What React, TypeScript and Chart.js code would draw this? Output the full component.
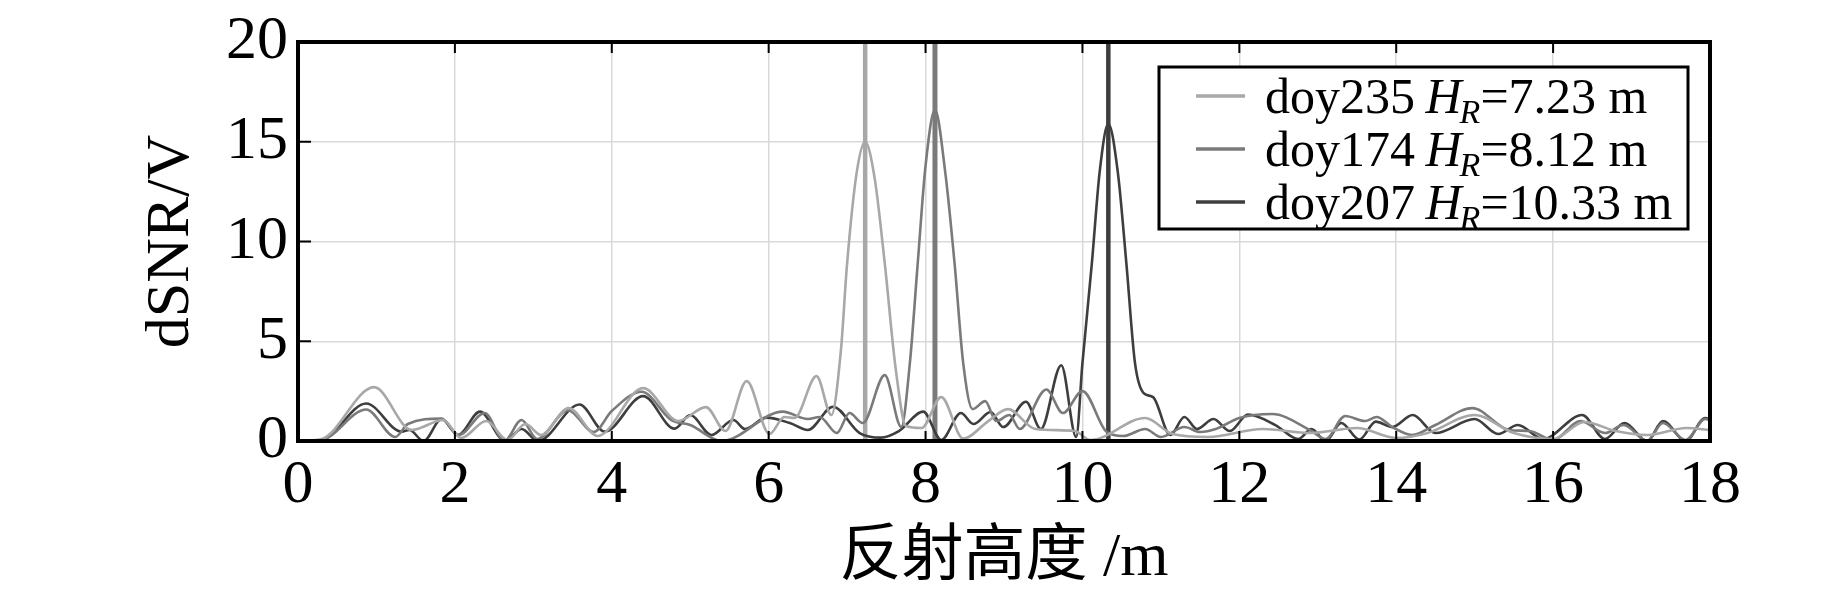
import React, { useEffect, useRef } from "react";
import { Chart, registerables } from "chart.js";

Chart.register(...registerables);

// ---- data (x = reflector height in m, y = dSNR amplitude in V) ----
const doy235: [number, number][] = [
  [0, 0], [0.3, 0.1], [0.97, 2.7], [1.45, 0.55], [1.85, 1.05], [2.08, 0.15], [2.4, 1.0],
  [2.67, 0.05], [2.9, 0.85], [3.1, 0.3], [3.45, 1.65], [3.82, 0.25], [4.4, 2.65], [4.85, 1.0],
  [5.2, 1.7], [5.45, 0.5], [5.72, 3.0], [6.01, 0.35], [6.2, 1.2], [6.33, 1.15], [6.61, 3.25],
  [6.8, 1.3], [6.92, 4.5], [7.0, 8.9], [7.12, 13.4], [7.23, 15.0], [7.35, 13.2], [7.48, 8.9],
  [7.62, 3.6], [7.75, 0.75], [7.95, 0.65], [8.2, 2.2], [8.48, 0.12], [8.8, 1.0], [9.05, 1.6],
  [9.4, 0.6], [9.9, 0.5], [10.1, 0.05], [10.8, 1.15], [11.15, 0.35], [11.6, 0.2], [12.3, 0.6],
  [12.9, 0.4], [13.5, 0.65], [14.0, 0.15], [14.4, 0.4], [15.0, 1.3], [15.5, 0.4], [16.0, 0.1],
  [16.4, 0.95], [16.8, 0.5], [17.2, 0.3], [17.7, 0.65], [18, 0.55],
];

const doy174: [number, number][] = [
  [0, 0], [0.3, 0.05], [0.87, 1.58], [1.24, 0.2], [1.4, 0.85], [1.83, 1.12], [2.05, 0.3],
  [2.38, 1.4], [2.63, 0.0], [2.85, 1.05], [3.05, 0.1], [3.44, 1.55], [3.77, 0.45], [4.0, 1.5],
  [4.38, 2.47], [4.76, 1.05], [5.0, 0.8], [5.4, 0.0], [6.18, 1.47], [6.5, 1.1], [6.65, 1.2],
  [6.87, 0.4], [7.03, 1.4], [7.2, 0.9], [7.48, 3.3], [7.69, 0.7], [7.8, 3.9], [7.9, 8.9],
  [8.0, 13.8], [8.12, 16.6], [8.25, 13.5], [8.37, 8.9], [8.48, 3.9], [8.6, 1.6], [8.76, 2.0],
  [8.9, 1.0], [9.07, 1.3], [9.2, 0.6], [9.54, 2.58], [9.75, 1.4], [10.0, 2.5], [10.31, 0.45],
  [10.52, 0.25], [10.8, 0.6], [11.0, 0.2], [11.3, 0.7], [11.5, 0.45], [11.7, 0.6], [12.0, 1.15],
  [12.42, 1.35], [12.9, 0.55], [13.1, 0.1], [13.35, 1.25], [13.6, 1.0], [13.75, 1.2], [13.95, 0.7],
  [14.2, 0.3], [14.5, 0.8], [14.97, 1.65], [15.44, 0.55], [15.7, 0.5], [16.0, 0.05], [16.35, 1.0],
  [16.66, 0.4], [16.9, 0.8], [17.2, 0.0], [17.4, 0.9], [17.69, 0.05], [17.94, 1.1], [18, 1.05],
];

const doy207: [number, number][] = [
  [0, 0], [0.3, 0.05], [0.87, 1.88], [1.32, 0.47], [1.42, 0.55], [1.6, 0.0], [1.83, 1.1],
  [2.04, 0.3], [2.32, 1.47], [2.64, 0.0], [2.85, 0.6], [3.06, 0.0], [3.59, 1.83], [3.91, 0.47],
  [4.4, 2.25], [4.8, 0.62], [5.0, 1.3], [5.27, 0.3], [5.55, 1.05], [5.7, 0.6], [5.97, 1.17],
  [6.27, 0.9], [6.5, 0.55], [6.82, 1.72], [7.16, 0.4], [7.43, 0.17], [7.66, 0.5], [7.97, 1.47],
  [8.2, 0.05], [8.45, 1.4], [8.61, 0.85], [8.83, 1.45], [8.99, 0.7], [9.28, 1.97], [9.47, 0.6],
  [9.73, 3.8], [9.92, 0.2], [10.0, 3.9], [10.12, 8.9], [10.22, 13.5], [10.33, 15.9], [10.45, 13.5],
  [10.56, 8.9], [10.67, 3.9], [10.78, 2.4], [10.9, 2.2], [11.12, 0.3], [11.3, 1.2], [11.46, 0.6],
  [11.67, 1.1], [11.88, 0.5], [12.11, 1.33], [12.46, 0.8], [12.75, 0.1], [12.92, 0.6], [13.1, 0.0],
  [13.3, 0.9], [13.53, 0.07], [13.74, 0.97], [13.95, 0.7], [14.21, 1.3], [14.5, 0.4], [15.0, 1.1],
  [15.3, 0.35], [15.55, 0.8], [15.87, 0.1], [16.37, 1.3], [16.66, 0.1], [16.91, 0.9], [17.2, 0.0],
  [17.4, 1.0], [17.69, 0.0], [17.94, 1.15], [18, 1.1],
];

const seriesNames = ["doy235", "doy174", "doy207"];
const reflectorHeights = [7.23, 8.12, 10.33];
const seriesColors = ["#a8a8a8", "#7a7a7a", "#3e3e3e"];
const xRange = [0, 18];
const yRange = [0, 20];
const xStep = 2;
const yStep = 5;
const xTitle = "反射高度 /m";
const yTitle = "dSNR/V";

const FONT = '"Liberation Serif", "Times New Roman", "Noto Sans CJK SC", serif';

const framePlugin = {
  id: "frameTicks",
  afterDatasetsDraw(chart: any) {
    const { ctx, chartArea, scales } = chart;
    const { left, right, top, bottom } = chartArea;
    ctx.save();
    ctx.strokeStyle = "#000";
    ctx.lineWidth = 2;
    ctx.beginPath();
    for (const t of scales.x.ticks) {
      const px = scales.x.getPixelForValue(t.value);
      if (px <= left + 2 || px >= right - 2) continue;
      ctx.moveTo(px, bottom);
      ctx.lineTo(px, bottom - 10);
      ctx.moveTo(px, top);
      ctx.lineTo(px, top + 11);
    }
    for (const t of scales.y.ticks) {
      const py = scales.y.getPixelForValue(t.value);
      if (py <= top + 2 || py >= bottom - 2) continue;
      ctx.moveTo(left, py);
      ctx.lineTo(left + 13, py);
    }
    ctx.stroke();
    ctx.lineWidth = 4;
    ctx.strokeRect(left, top, right - left, bottom - top);
    ctx.restore();
  },
};

const legendPlugin = {
  id: "customLegend",
  afterDraw(chart: any) {
    const { ctx, chartArea } = chart;
    const boxRight = chartArea.right - 22;
    const boxTop = chartArea.top + 25;
    const boxW = 529;
    const boxH = 162;
    const boxLeft = boxRight - boxW;
    ctx.save();
    ctx.fillStyle = "#fff";
    ctx.fillRect(boxLeft, boxTop, boxW, boxH);
    ctx.strokeStyle = "#000";
    ctx.lineWidth = 3;
    ctx.strokeRect(boxLeft, boxTop, boxW, boxH);
    const size = 50;
    seriesNames.forEach((name, i) => {
      const cy = boxTop + 29 + i * 53;
      ctx.strokeStyle = seriesColors[i];
      ctx.lineWidth = 3.5;
      ctx.beginPath();
      ctx.moveTo(boxLeft + 37, cy);
      ctx.lineTo(boxLeft + 86, cy);
      ctx.stroke();
      const baseY = cy + size * 0.33;
      ctx.fillStyle = "#000";
      ctx.textBaseline = "alphabetic";
      ctx.textAlign = "left";
      let x = boxLeft + 106;
      ctx.font = `${size}px ${FONT}`;
      ctx.fillText(name + " ", x, baseY);
      x += ctx.measureText(name + " ").width - 2;
      ctx.font = `italic ${size}px ${FONT}`;
      ctx.fillText("H", x, baseY);
      x += ctx.measureText("H").width - 2;
      ctx.font = `italic ${Math.round(size * 0.68)}px ${FONT}`;
      ctx.fillText("R", x, baseY + 10);
      x += ctx.measureText("R").width;
      ctx.font = `${size}px ${FONT}`;
      ctx.fillText("=" + reflectorHeights[i].toFixed(2) + " m", x, baseY);
    });
    ctx.restore();
  },
};

export default function App() {
  const canvasRef = useRef<HTMLCanvasElement | null>(null);

  useEffect(() => {
    if (!canvasRef.current) return;
    const curveSets = [doy235, doy174, doy207].map((pts, i) => ({
      label: seriesNames[i],
      data: pts.map(([x, y]) => ({ x, y })),
      borderColor: seriesColors[i],
      borderWidth: 2.6,
      pointRadius: 0,
      fill: false,
      cubicInterpolationMode: "monotone" as const,
    }));
    const markerSets = reflectorHeights.map((h, i) => ({
      label: seriesNames[i] + " HR",
      data: [
        { x: h, y: yRange[0] },
        { x: h, y: yRange[1] },
      ],
      borderColor: seriesColors[i],
      borderWidth: i === 1 ? 5 : 4.5,
      pointRadius: 0,
      fill: false,
    }));

    const zeroPad = (s: any) => {
      s.paddingTop = 0;
      s.paddingBottom = 0;
      s.paddingLeft = 0;
      s.paddingRight = 0;
    };

    const chart = new Chart(canvasRef.current, {
      type: "line",
      data: { datasets: [...curveSets, ...markerSets] as any },
      options: {
        animation: false,
        responsive: false,
        layout: { padding: { left: 0, top: 42, right: 133, bottom: 0 } },
        plugins: { legend: { display: false }, tooltip: { enabled: false } },
        scales: {
          x: {
            type: "linear",
            min: xRange[0],
            max: xRange[1],
            ticks: {
              stepSize: xStep,
              padding: 8,
              color: "#000",
              font: { family: FONT, size: 62 },
            },
            grid: { color: "#d9d9d9", lineWidth: 1.5, drawTicks: false },
            border: { display: false },
            title: {
              display: true,
              text: xTitle,
              color: "#000",
              font: { family: FONT, size: 62, lineHeight: 1 },
              padding: { top: 0, bottom: 3 },
            },
            afterFit: (s: any) => {
              s.height = 152;
              zeroPad(s);
            },
          },
          y: {
            type: "linear",
            min: yRange[0],
            max: yRange[1],
            ticks: {
              stepSize: yStep,
              padding: 10,
              color: "#000",
              font: { family: FONT, size: 62 },
            },
            grid: { color: "#d9d9d9", lineWidth: 1.5, drawTicks: false },
            border: { display: false },
            title: {
              display: true,
              text: yTitle,
              color: "#000",
              font: { family: FONT, size: 62, lineHeight: 1 },
              padding: { top: 141, bottom: 0 },
            },
            afterFit: (s: any) => {
              s.width = 298;
              zeroPad(s);
            },
          },
        },
      },
      plugins: [framePlugin, legendPlugin],
    });
    return () => chart.destroy();
  }, []);

  return (
    <div style={{ position: "fixed", left: 0, top: 0, width: 1843, height: 593, background: "#fff" }}>
      <canvas ref={canvasRef} width={1843} height={593} style={{ display: "block" }} />
    </div>
  );
}
